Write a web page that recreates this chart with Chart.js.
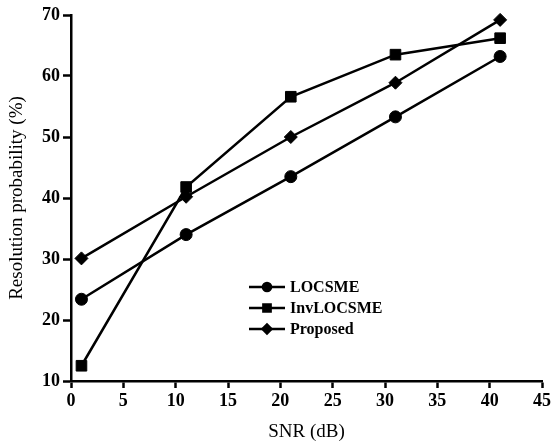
<!DOCTYPE html>
<html>
<head>
<meta charset="utf-8">
<script src="https://cdn.jsdelivr.net/npm/chart.js@4.4.0/dist/chart.umd.min.js"></script>
<style>
  html, body { margin: 0; padding: 0; background: #fff; }
  #wrap { width: 555px; height: 444px; }
</style>
</head>
<body>
<div id="wrap"><canvas id="chart" width="555" height="444"></canvas></div>
<script>
const snr = [1, 11, 21, 31, 41];
const locsme = [23.4, 34.0, 43.5, 53.3, 63.2];
const invLocsme = [12.5, 41.8, 56.6, 63.5, 66.2];
const proposed = [30.1, 40.2, 50.0, 58.9, 69.2];
const seriesNames = ['LOCSME', 'InvLOCSME', 'Proposed'];
const markers = ['circle', 'rect', 'rectRot'];
const markerSizes = [6, 7.5, 6.5];

const serif = '"Liberation Serif", "Times New Roman", serif';

function toPoints(ys) {
    return snr.map((x, i) => ({ x: x, y: ys[i] }));
}

// legend drawn inside the plot, line + marker + label
const innerLegend = {
    id: 'innerLegend',
    afterDraw(chart) {
        const ctx = chart.ctx;
        const area = chart.chartArea;
        const x0 = area.left + 178;
        const y0 = area.top + 272;
        ctx.save();
        chart.data.datasets.forEach((ds, i) => {
            const y = y0 + i * 21;
            ctx.strokeStyle = '#000';
            ctx.lineWidth = 2.5;
            ctx.beginPath();
            ctx.moveTo(x0, y);
            ctx.lineTo(x0 + 36, y);
            ctx.stroke();
            Chart.helpers.drawPoint(ctx, {
                pointStyle: ds.pointStyle,
                radius: ds.pointRadius * 0.68,
                borderWidth: 1
            }, x0 + 18, y);
            ctx.fillStyle = '#000';
            ctx.font = 'bold 16px ' + serif;
            ctx.textBaseline = 'middle';
            ctx.textAlign = 'left';
            ctx.fillText(ds.label, x0 + 41, y + 1);
        });
        ctx.restore();
    }
};

const datasets = [locsme, invLocsme, proposed].map((ys, i) => ({
    label: seriesNames[i],
    data: toPoints(ys),
    borderColor: '#000',
    backgroundColor: '#000',
    borderWidth: 2.5,
    pointStyle: markers[i],
    pointRadius: markerSizes[i],
    pointBackgroundColor: '#000',
    pointBorderColor: '#000',
    pointBorderWidth: 1,
    tension: 0,
    clip: false
}));

new Chart(document.getElementById('chart'), {
    type: 'line',
    data: { datasets: datasets },
    options: {
        responsive: false,
        animation: false,
        layout: { padding: { top: 15, right: 13, left: 0, bottom: 0 } },
        plugins: {
            legend: { display: false },
            tooltip: { enabled: false }
        },
        scales: {
            x: {
                type: 'linear',
                min: 0,
                max: 45,
                ticks: {
                    stepSize: 5,
                    color: '#000',
                    padding: 3,
                    maxRotation: 0,
                    font: { family: serif, size: 18, weight: 'bold' }
                },
                grid: {
                    drawOnChartArea: false,
                    drawTicks: true,
                    tickLength: 7,
                    tickWidth: 2.5,
                    tickColor: '#000'
                },
                border: { color: '#000', width: 2.5 },
                title: {
                    display: true,
                    text: 'SNR (dB)',
                    color: '#000',
                    font: { family: serif, size: 19 },
                    padding: { top: 0, bottom: 1 }
                },
                afterFit(scale) { scale.height = 63; }
            },
            y: {
                min: 10,
                max: 70,
                ticks: {
                    stepSize: 10,
                    color: '#000',
                    padding: 3,
                    font: { family: serif, size: 18, weight: 'bold' }
                },
                grid: {
                    drawOnChartArea: false,
                    drawTicks: true,
                    tickLength: 8,
                    tickWidth: 2.5,
                    tickColor: '#000'
                },
                border: { color: '#000', width: 2.5 },
                title: {
                    display: true,
                    text: 'Resolution probability (%)',
                    color: '#000',
                    font: { family: serif, size: 19 },
                    padding: { top: 6, bottom: 0 }
                },
                afterFit(scale) { scale.width = 71; }
            }
        }
    },
    plugins: [innerLegend]
});
</script>
</body>
</html>
